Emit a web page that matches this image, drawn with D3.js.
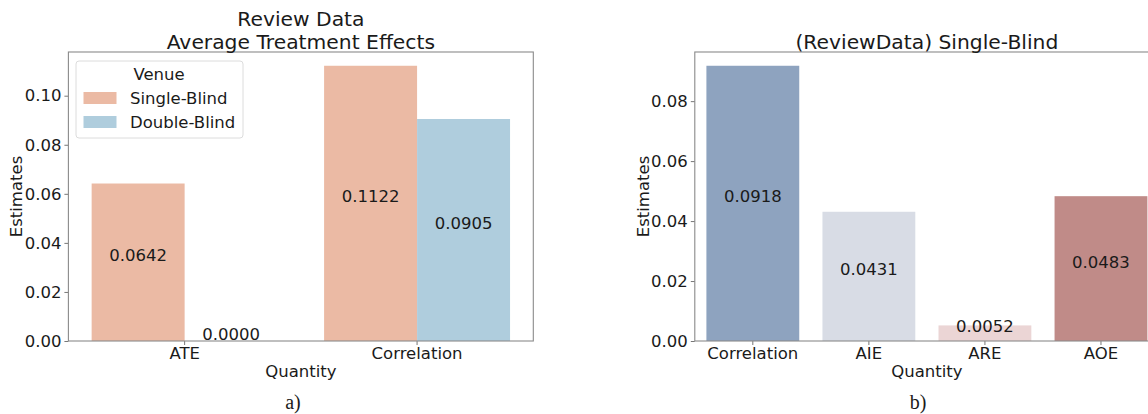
<!DOCTYPE html>
<html>
<head>
<meta charset="utf-8">
<script src="https://cdn.jsdelivr.net/npm/d3@7"></script>
<style>
  body { margin: 0; background: #fff; }
  text { font-family: "DejaVu Sans", sans-serif; fill: #1a1a1a; }
  .caption { font-family: "Liberation Serif", serif; }
</style>
</head>
<body>
<script>
// data
var venues = ["Single-Blind", "Double-Blind"];
var ateQuantities = ["ATE", "Correlation"];
var singleBlindAte = [0.0642, 0.1122];
var doubleBlindAte = [0.0000, 0.0905];
var sbQuantities = ["Correlation", "AIE", "ARE", "AOE"];
var sbEstimates = [0.0918, 0.0431, 0.0052, 0.0483];
var leftTicks = [0, 0.02, 0.04, 0.06, 0.08, 0.10];
var rightTicks = [0, 0.02, 0.04, 0.06, 0.08];

var venueColors = ["#ebbaa4", "#afcddd"];
var sbColors = ["#8ea3bf", "#d8dce5", "#ebd5d5", "#c08b88"];

var canvasWidth = 1148, canvasHeight = 414,
    plotTop = 52, plotBottom = 341,
    fontSize = 16.5;

var svg = d3.select("body")
    .append("svg")
    .attr("width", canvasWidth)
    .attr("height", canvasHeight);

function drawAxes(g, y, ticks, left) {
    g.append("g")
        .attr("transform", "translate(" + left + ",0)")
        .call(d3.axisLeft(y).tickValues(ticks).tickFormat(d3.format(".2f"))
            .tickSize(4).tickPadding(3))
        .call(function(a) {
            a.select(".domain").remove();
            a.selectAll("line").attr("stroke", "#777");
            a.selectAll("text").style("font-size", fontSize + "px")
                .attr("fill", "#1a1a1a");
        });
}

function frame(g, left, right) {
    g.append("rect")
        .attr("x", left).attr("y", plotTop)
        .attr("width", right - left).attr("height", plotBottom - plotTop)
        .attr("fill", "none").attr("stroke", "#8a8a8a").attr("stroke-width", 1.1);
}

function xLabels(g, x) {
    g.append("g")
        .attr("transform", "translate(0," + plotBottom + ")")
        .call(d3.axisBottom(x).tickSize(4).tickPadding(2))
        .call(function(a) {
            a.select(".domain").remove();
            a.selectAll("line").attr("stroke", "#777");
            a.selectAll("text").style("font-size", fontSize + "px")
                .attr("fill", "#1a1a1a");
        });
}

function axisTitles(g, left, right, yLabelX, title) {
    g.append("text")
        .attr("text-anchor", "middle")
        .attr("x", (left + right) / 2).attr("y", 377)
        .style("font-size", fontSize + "px")
        .text("Quantity");
    g.append("text")
        .attr("text-anchor", "middle")
        .attr("transform", "translate(" + yLabelX + "," + ((plotTop + plotBottom) / 2) + ") rotate(-90)")
        .attr("dy", "0.35em")
        .style("font-size", fontSize + "px")
        .text("Estimates");
    title.forEach(function(t, i) {
        g.append("text")
            .attr("text-anchor", "middle")
            .attr("x", (left + right) / 2)
            .attr("y", 26 + i * 23 + (title.length == 1 ? 23 : 0))
            .style("font-size", "20.3px")
            .text(t);
    });
}

// ---- panel a ----
var aLeft = 68.4, aRight = 533.3;
var gA = svg.append("g");
var xA = d3.scaleBand().domain(ateQuantities).range([aLeft, aRight]);
var hue = d3.scaleBand().domain(venues).range([0.1 * xA.bandwidth(), 0.9 * xA.bandwidth()]);
var yA = d3.scaleLinear().domain([0, 0.1122 * 1.05]).range([plotBottom, plotTop]);

var ateRows = [];
ateQuantities.forEach(function(q, i) {
    ateRows.push({q: q, venue: venues[0], v: singleBlindAte[i], c: venueColors[0]});
    ateRows.push({q: q, venue: venues[1], v: doubleBlindAte[i], c: venueColors[1]});
});

gA.selectAll("rect.bar").data(ateRows).enter().append("rect")
    .attr("class", "bar")
    .attr("x", function(d) { return xA(d.q) + hue(d.venue); })
    .attr("width", hue.bandwidth())
    .attr("y", function(d) { return yA(d.v); })
    .attr("height", function(d) { return plotBottom - yA(d.v); })
    .attr("fill", function(d) { return d.c; });

gA.selectAll("text.val").data(ateRows).enter().append("text")
    .attr("class", "val")
    .attr("text-anchor", "middle")
    .attr("x", function(d) { return xA(d.q) + hue(d.venue) + hue.bandwidth() / 2; })
    .attr("y", function(d) { return yA(d.v / 2) - 1; })
    .style("font-size", fontSize + "px")
    .text(function(d) { return d.v.toFixed(4); });

drawAxes(gA, yA, leftTicks, aLeft);
xLabels(gA, xA);
frame(gA, aLeft, aRight);
axisTitles(gA, aLeft, aRight, 16.5, ["Review Data", "Average Treatment Effects"]);

// legend
var legend = gA.append("g");
legend.append("rect")
    .attr("x", 76).attr("y", 61).attr("width", 167).attr("height", 77)
    .attr("rx", 3).attr("fill", "#fff").attr("fill-opacity", 0.8)
    .attr("stroke", "#dcdcdc");
legend.append("text")
    .attr("text-anchor", "middle").attr("x", 159).attr("y", 80)
    .style("font-size", fontSize + "px").text("Venue");
venues.forEach(function(v, i) {
    legend.append("rect")
        .attr("x", 83.5).attr("y", 92 + i * 24).attr("width", 33).attr("height", 12)
        .attr("fill", venueColors[i]);
    legend.append("text")
        .attr("x", 130).attr("y", 104 + i * 24)
        .style("font-size", fontSize + "px").text(v);
});

// ---- panel b ----
var bLeft = 694.8, bRight = 1159;
var gB = svg.append("g");
var xB = d3.scaleBand().domain(sbQuantities).range([bLeft, bRight])
    .paddingInner(0.2).paddingOuter(0.1);
var yB = d3.scaleLinear().domain([0, 0.0918 * 1.05]).range([plotBottom, plotTop]);

gB.selectAll("rect.bar").data(sbQuantities).enter().append("rect")
    .attr("class", "bar")
    .attr("x", function(d) { return xB(d); })
    .attr("width", xB.bandwidth())
    .attr("y", function(d, i) { return yB(sbEstimates[i]); })
    .attr("height", function(d, i) { return plotBottom - yB(sbEstimates[i]); })
    .attr("fill", function(d, i) { return sbColors[i]; });

gB.selectAll("text.val").data(sbQuantities).enter().append("text")
    .attr("class", "val")
    .attr("text-anchor", "middle")
    .attr("x", function(d) { return xB(d) + xB.bandwidth() / 2; })
    .attr("y", function(d, i) { return yB(sbEstimates[i] / 2) - 1; })
    .style("font-size", fontSize + "px")
    .text(function(d, i) { return sbEstimates[i].toFixed(4); });

drawAxes(gB, yB, rightTicks, bLeft);
xLabels(gB, xB);
frame(gB, bLeft, bRight);
axisTitles(gB, bLeft, bRight, 643.5, ["(ReviewData) Single-Blind"]);

// captions
svg.append("text").attr("class", "caption")
    .attr("text-anchor", "middle").attr("x", 293).attr("y", 409)
    .style("font-size", "20px").text("a)");
svg.append("text").attr("class", "caption")
    .attr("text-anchor", "middle").attr("x", 918).attr("y", 409)
    .style("font-size", "20px").text("b)");
</script>
</body>
</html>
